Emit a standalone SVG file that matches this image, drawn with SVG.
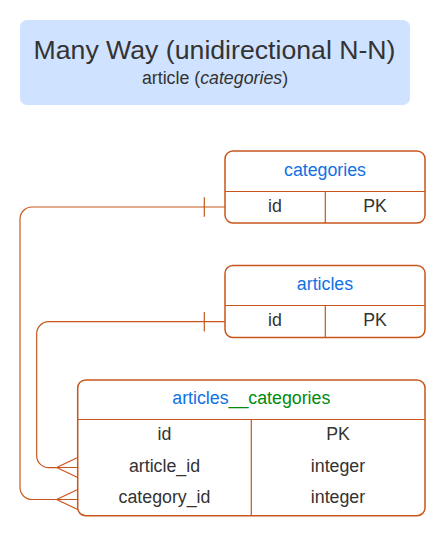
<svg xmlns="http://www.w3.org/2000/svg" width="445" height="536" viewBox="0 0 445 536">
<style>
text{font-family:"Liberation Sans",Arial,sans-serif;fill:#333333;text-anchor:middle}
.tb{fill:#ffffff;stroke:#c8561b;stroke-width:1.5}
.ln{stroke:#c8561b;stroke-width:1.2;fill:none}
.hd{font-size:17.78px;fill:#1071e5}
.cell{font-size:17.78px}
.con{stroke:#c8561b;stroke-width:1.2;fill:none}
</style>
<rect width="445" height="536" fill="#ffffff"/>
<g id="title">
<rect x="20" y="20" width="390" height="85" rx="7" fill="#cfe2ff"/>
<text x="214.5" y="58.5" style="font-size:26.67px">Many Way (unidirectional N-N)</text>
<text x="215" y="83.5" style="font-size:17.78px">article (<tspan font-style="italic">categories</tspan>)</text>
</g>
<g id="connectors">
<path class="con" d="M225,207 H32 A12,12 0 0 0 20,219 V487.5 A12,12 0 0 0 32,499.5 H56.7"/>
<path class="con" d="M204.3,197.3 V216.7"/>
<path class="con" d="M225,321.7 H48.7 A12,12 0 0 0 36.7,333.7 V455.7 A12,12 0 0 0 48.7,467.7 H56.7"/>
<path class="con" d="M204.3,312 V331.4"/>
<path class="con" d="M77.7,457.5 L56.7,467.5 L77.7,477.5 M56.7,467.5 H77.7"/>
<path class="con" d="M77.7,489.5 L56.7,499.5 L77.7,509.5 M56.7,499.5 H77.7"/>
</g>
<g id="categories">
<rect class="tb" x="225" y="151" width="200" height="72" rx="8"/>
<path class="ln" d="M225,191.5 H425 M325.3,191.5 V223"/>
<text class="hd" x="325" y="175.5">categories</text>
<text class="cell" x="275" y="211.5">id</text>
<text class="cell" x="375" y="211.5">PK</text>
</g>
<g id="articles">
<rect class="tb" x="225" y="265.5" width="200" height="72" rx="8"/>
<path class="ln" d="M225,305.5 H425 M325.3,305.5 V337.5"/>
<text class="hd" x="325" y="290">articles</text>
<text class="cell" x="275" y="326">id</text>
<text class="cell" x="375" y="326">PK</text>
</g>
<g id="articles__categories">
<rect class="tb" x="77.7" y="380" width="347.3" height="135.7" rx="8"/>
<path class="ln" d="M77.7,419.5 H425 M251.3,419.5 V515.7"/>
<text class="hd" x="251.3" y="404">articles<tspan fill="#008a0e">__categories</tspan></text>
<text class="cell" x="164.5" y="440">id</text>
<text class="cell" x="338" y="440">PK</text>
<text class="cell" x="164.5" y="471.5">article_id</text>
<text class="cell" x="338" y="471.5">integer</text>
<text class="cell" x="164.5" y="503.3">category_id</text>
<text class="cell" x="338" y="503.3">integer</text>
</g>
</svg>
